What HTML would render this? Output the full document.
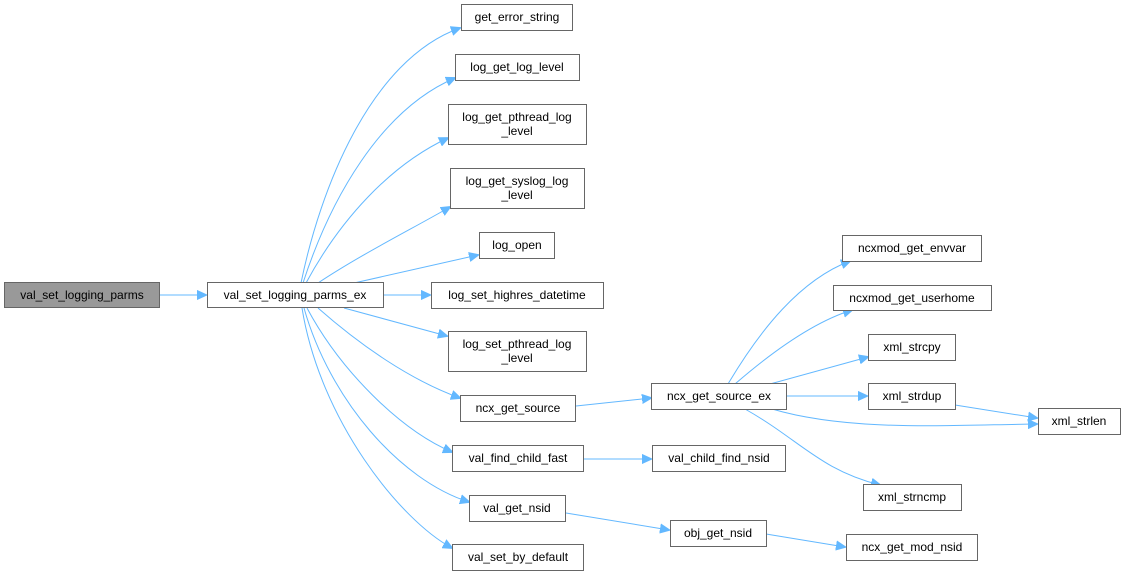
<!DOCTYPE html>
<html><head><meta charset="utf-8"><style>
html,body{margin:0;padding:0;background:#fff;width:1127px;height:576px;overflow:hidden}
svg{display:block}
text{font-family:"Liberation Sans",Arial,sans-serif;font-size:12px;fill:#000;text-anchor:middle}
.b{fill:#fff;stroke:#666;stroke-width:1}
.g{fill:#999;stroke:#666;stroke-width:1}
.e{fill:none;stroke:#63b8ff;stroke-width:1}
</style></head><body>
<svg width="1127" height="576" viewBox="0 0 1127 576">
<defs><marker id="a" markerWidth="10" markerHeight="10" refX="9" refY="5" orient="auto" markerUnits="userSpaceOnUse"><path d="M0,0.5 L10,5 L0,9.5 z" fill="#63b8ff" stroke="#63b8ff"/></marker></defs>
<g>
<path class="e" marker-end="url(#a)" d="M160,295 L206,295"/>
<path class="e" marker-end="url(#a)" d="M301,283 C320,190 370,60 460,28"/>
<path class="e" marker-end="url(#a)" d="M303,283 C330,200 380,110 455,78"/>
<path class="e" marker-end="url(#a)" d="M306,283 C340,220 390,165 448,138"/>
<path class="e" marker-end="url(#a)" d="M318,283 C360,255 410,230 450,207"/>
<path class="e" marker-end="url(#a)" d="M354,283 L478,255"/>
<path class="e" marker-end="url(#a)" d="M384,295 L430,295"/>
<path class="e" marker-end="url(#a)" d="M344,308 L447,336"/>
<path class="e" marker-end="url(#a)" d="M318,308 C360,345 410,380 460,398"/>
<path class="e" marker-end="url(#a)" d="M307,308 C340,370 400,430 452,452"/>
<path class="e" marker-end="url(#a)" d="M304,308 C330,400 400,480 469,502"/>
<path class="e" marker-end="url(#a)" d="M302,308 C320,420 400,520 452,548"/>
<path class="e" marker-end="url(#a)" d="M576,406 L651,398"/>
<path class="e" marker-end="url(#a)" d="M583,459 L651,459"/>
<path class="e" marker-end="url(#a)" d="M566,513 L669,530"/>
<path class="e" marker-end="url(#a)" d="M766,534 L845,547"/>
<path class="e" marker-end="url(#a)" d="M728,384 C760,330 800,280 850,261"/>
<path class="e" marker-end="url(#a)" d="M735,384 C780,345 820,320 852,310"/>
<path class="e" marker-end="url(#a)" d="M770,384 L868,357"/>
<path class="e" marker-end="url(#a)" d="M786,396 L867,396"/>
<path class="e" marker-end="url(#a)" d="M955,405 L1037,418"/>
<path class="e" marker-end="url(#a)" d="M772,409 C850,432 950,425 1037,424"/>
<path class="e" marker-end="url(#a)" d="M745,409 C800,440 820,470 880,485"/>
</g>
<rect class="g" x="4.5" y="282.5" width="155" height="25"/><text x="82" y="299">val_set_logging_parms</text>
<rect class="b" x="207.5" y="282.5" width="176" height="25"/><text x="295" y="299">val_set_logging_parms_ex</text>
<rect class="b" x="461.5" y="4.5" width="111" height="26"/><text x="517" y="21">get_error_string</text>
<rect class="b" x="455.5" y="54.5" width="124" height="26"/><text x="517" y="71">log_get_log_level</text>
<rect class="b" x="448.5" y="104.5" width="138" height="40"/><text x="517" y="121">log_get_pthread_log</text><text x="517" y="135">_level</text>
<rect class="b" x="450.5" y="168.5" width="134" height="40"/><text x="517" y="185">log_get_syslog_log</text><text x="517" y="199">_level</text>
<rect class="b" x="479.5" y="232.5" width="75" height="26"/><text x="517" y="249">log_open</text>
<rect class="b" x="431.5" y="282.5" width="172" height="26"/><text x="517" y="299">log_set_highres_datetime</text>
<rect class="b" x="448.5" y="331.5" width="138" height="40"/><text x="517" y="348">log_set_pthread_log</text><text x="517" y="362">_level</text>
<rect class="b" x="460.5" y="395.5" width="115" height="26"/><text x="518" y="412">ncx_get_source</text>
<rect class="b" x="452.5" y="445.5" width="131" height="26"/><text x="518" y="462">val_find_child_fast</text>
<rect class="b" x="469.5" y="495.5" width="96" height="26"/><text x="517" y="512">val_get_nsid</text>
<rect class="b" x="452.5" y="544.5" width="131" height="26"/><text x="518" y="561">val_set_by_default</text>
<rect class="b" x="651.5" y="383.5" width="135" height="26"/><text x="719" y="400">ncx_get_source_ex</text>
<rect class="b" x="652.5" y="445.5" width="133" height="26"/><text x="719" y="462">val_child_find_nsid</text>
<rect class="b" x="670.5" y="520.5" width="96" height="26"/><text x="718" y="537">obj_get_nsid</text>
<rect class="b" x="842.5" y="235.5" width="139" height="26"/><text x="912" y="252">ncxmod_get_envvar</text>
<rect class="b" x="833.5" y="285.5" width="158" height="25"/><text x="912" y="302">ncxmod_get_userhome</text>
<rect class="b" x="868.5" y="334.5" width="87" height="26"/><text x="912" y="351">xml_strcpy</text>
<rect class="b" x="868.5" y="383.5" width="87" height="26"/><text x="912" y="400">xml_strdup</text>
<rect class="b" x="1038.5" y="408.5" width="82" height="26"/><text x="1079" y="425">xml_strlen</text>
<rect class="b" x="863.5" y="484.5" width="98" height="26"/><text x="912" y="501">xml_strncmp</text>
<rect class="b" x="846.5" y="534.5" width="131" height="26"/><text x="912" y="551">ncx_get_mod_nsid</text>
</svg>
</body></html>
